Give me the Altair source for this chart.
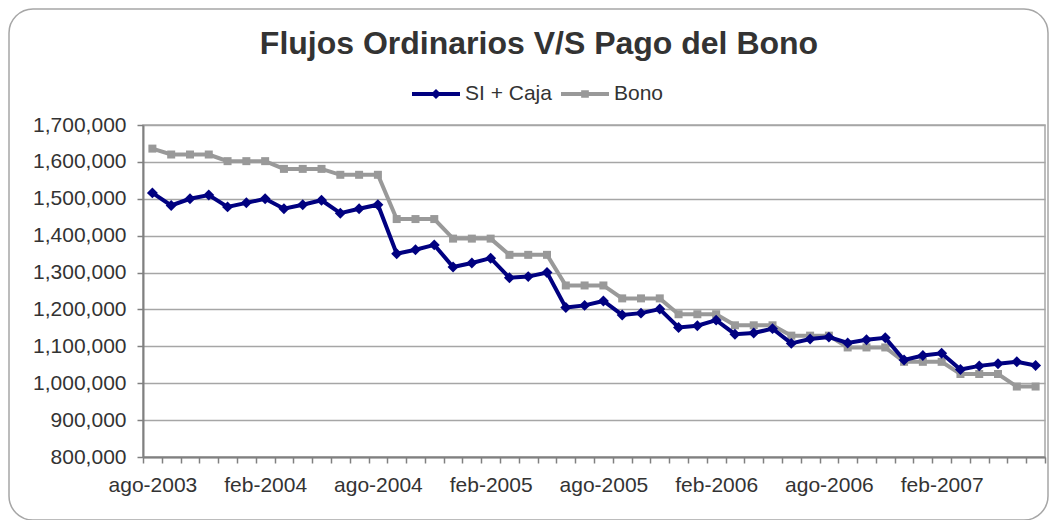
import altair as alt
import pandas as pd

TITLE = "Flujos Ordinarios V/S Pago del Bono"
SERIES = ["SI + Caja", "Bono"]
COLORS = ["#000080", "#999999"]

MONTHS = ["ene", "feb", "mar", "abr", "may", "jun", "jul", "ago", "sep", "oct", "nov", "dic"]
START_MONTH = 7   # ago
START_YEAR = 2003
N_POINTS = 48
LABEL_MONTHS = ["ago", "feb"]

SI_CAJA = [
    1516000, 1482000, 1500000, 1510000, 1478000, 1489000, 1500000, 1473000,
    1484000, 1496000, 1461000, 1473000, 1484000, 1351000, 1362000, 1375000,
    1315000, 1326000, 1339000, 1286000, 1289000, 1300000, 1205000, 1211000,
    1223000, 1185000, 1190000, 1201000, 1151000, 1156000, 1171000, 1133000,
    1136000, 1148000, 1108000, 1120000, 1125000, 1109000, 1118000, 1123000,
    1063000, 1075000, 1081000, 1037000, 1047000, 1053000, 1058000, 1048000,
]
BONO = [
    1636000, 1620000, 1620000, 1620000, 1602000, 1602000, 1602000, 1581000,
    1581000, 1581000, 1565000, 1565000, 1565000, 1445000, 1445000, 1445000,
    1392000, 1392000, 1392000, 1348000, 1348000, 1348000, 1265000, 1265000,
    1265000, 1230000, 1230000, 1230000, 1187000, 1187000, 1187000, 1157000,
    1157000, 1157000, 1129000, 1129000, 1129000, 1097000, 1097000, 1097000,
    1058000, 1058000, 1058000, 1025000, 1025000, 1025000, 991000, 991000,
]
Y_TICKS = [800000, 900000, 1000000, 1100000, 1200000, 1300000, 1400000,
           1500000, 1600000, 1700000]

FONT = "Liberation Sans"
TEXT_COLOR = "#333333"

labels = []
for i in range(N_POINTS):
    m = (START_MONTH + i) % 12
    y = START_YEAR + (START_MONTH + i) // 12
    labels.append(f"{MONTHS[m]}-{y}")

df = pd.DataFrame({
    "mes": labels * 2,
    "serie": [SERIES[0]] * N_POINTS + [SERIES[1]] * N_POINTS,
    "valor": SI_CAJA + BONO,
})

label_list = "[" + ",".join(f"'{m}'" for m in LABEL_MONTHS) + "]"
x_enc = alt.X(
    "mes:O",
    sort=labels,
    bandPosition=0.5,
    scale=alt.Scale(type="band", paddingInner=0, paddingOuter=0),
    axis=alt.Axis(
        title=None,
        tickBand="extent",
        labelExpr=f"indexof({label_list}, slice(datum.label, 0, 3)) >= 0 ? datum.label : ''",
        labelAngle=0,
        labelOverlap=False,
        labelFontSize=21,
        labelFont=FONT,
        labelColor=TEXT_COLOR,
        labelPadding=11,
        tickColor="#808080",
        tickSize=6,
        tickWidth=1.5,
        domainColor="#808080",
        domainWidth=2,
        grid=False,
    ),
)
y_enc = alt.Y(
    "valor:Q",
    scale=alt.Scale(domain=[Y_TICKS[0], Y_TICKS[-1]], nice=False, zero=False),
    axis=alt.Axis(
        title=None,
        values=Y_TICKS,
        format=",d",
        labelFontSize=21,
        labelFont=FONT,
        labelColor=TEXT_COLOR,
        labelPadding=11,
        tickColor="#808080",
        tickSize=6,
        tickWidth=1.5,
        domainColor="#808080",
        domainWidth=2,
        gridColor="#a6a6a6",
        gridWidth=1.5,
    ),
)

base = alt.Chart(df).encode(x=x_enc, y=y_enc)

line_bono = base.transform_filter(alt.datum.serie == SERIES[1]).mark_line(
    color=COLORS[1], strokeWidth=4,
    point=alt.OverlayMarkDef(shape="square", size=64, filled=True, color=COLORS[1], opacity=1),
)
line_si = base.transform_filter(alt.datum.serie == SERIES[0]).mark_line(
    color=COLORS[0], strokeWidth=4,
    point=alt.OverlayMarkDef(shape="diamond", size=120, filled=True, color=COLORS[0], opacity=1),
)

PATH_DIAMOND = "M-1,-0.08L1,-0.08L1,0.08L-1,0.08Z M0,-0.21L0.21,0L0,0.21L-0.21,0Z"
PATH_SQUARE = "M-1,-0.08L1,-0.08L1,0.08L-1,0.08Z M-0.16,-0.16L0.16,-0.16L0.16,0.16L-0.16,0.16Z"

legend_kw = dict(
    title=None, orient="none", direction="horizontal", legendX=268, legendY=-56,
    labelFontSize=21, labelFont=FONT, labelColor=TEXT_COLOR, symbolSize=2304,
    symbolOpacity=1, labelOffset=4, columnPadding=6, padding=0,
)
legend_layer = base.mark_point(opacity=0, filled=True).encode(
    color=alt.Color("serie:N", scale=alt.Scale(domain=SERIES, range=COLORS),
                    legend=alt.Legend(**legend_kw)),
    shape=alt.Shape("serie:N", scale=alt.Scale(domain=SERIES, range=[PATH_DIAMOND, PATH_SQUARE]),
                    legend=alt.Legend(**legend_kw)),
)

border = alt.Chart(pd.DataFrame({"k": [0]})).mark_rect(
    filled=False, stroke="#a6a6a6", strokeWidth=1.5, cornerRadius=24
).encode(x=alt.value(-134), x2=alt.value(905), y=alt.value(-116), y2=alt.value(395))

title = alt.Chart(pd.DataFrame({"t": [TITLE]})).mark_text(
    font=FONT, fontSize=32, fontWeight="bold", color=TEXT_COLOR, baseline="middle", align="center"
).encode(text="t:N", x=alt.value(396), y=alt.value(-81))

chart = alt.layer(border, title, line_bono, line_si, legend_layer).properties(
    width=902, height=332,
    padding={"left": 135, "top": 117, "right": 4, "bottom": 63},
    autosize=alt.AutoSizeParams(type="none"),
    background="white",
).configure_view(stroke="#a6a6a6", strokeWidth=1.5)

chart.save("out.html", embed_options={"renderer": "svg", "actions": False})
